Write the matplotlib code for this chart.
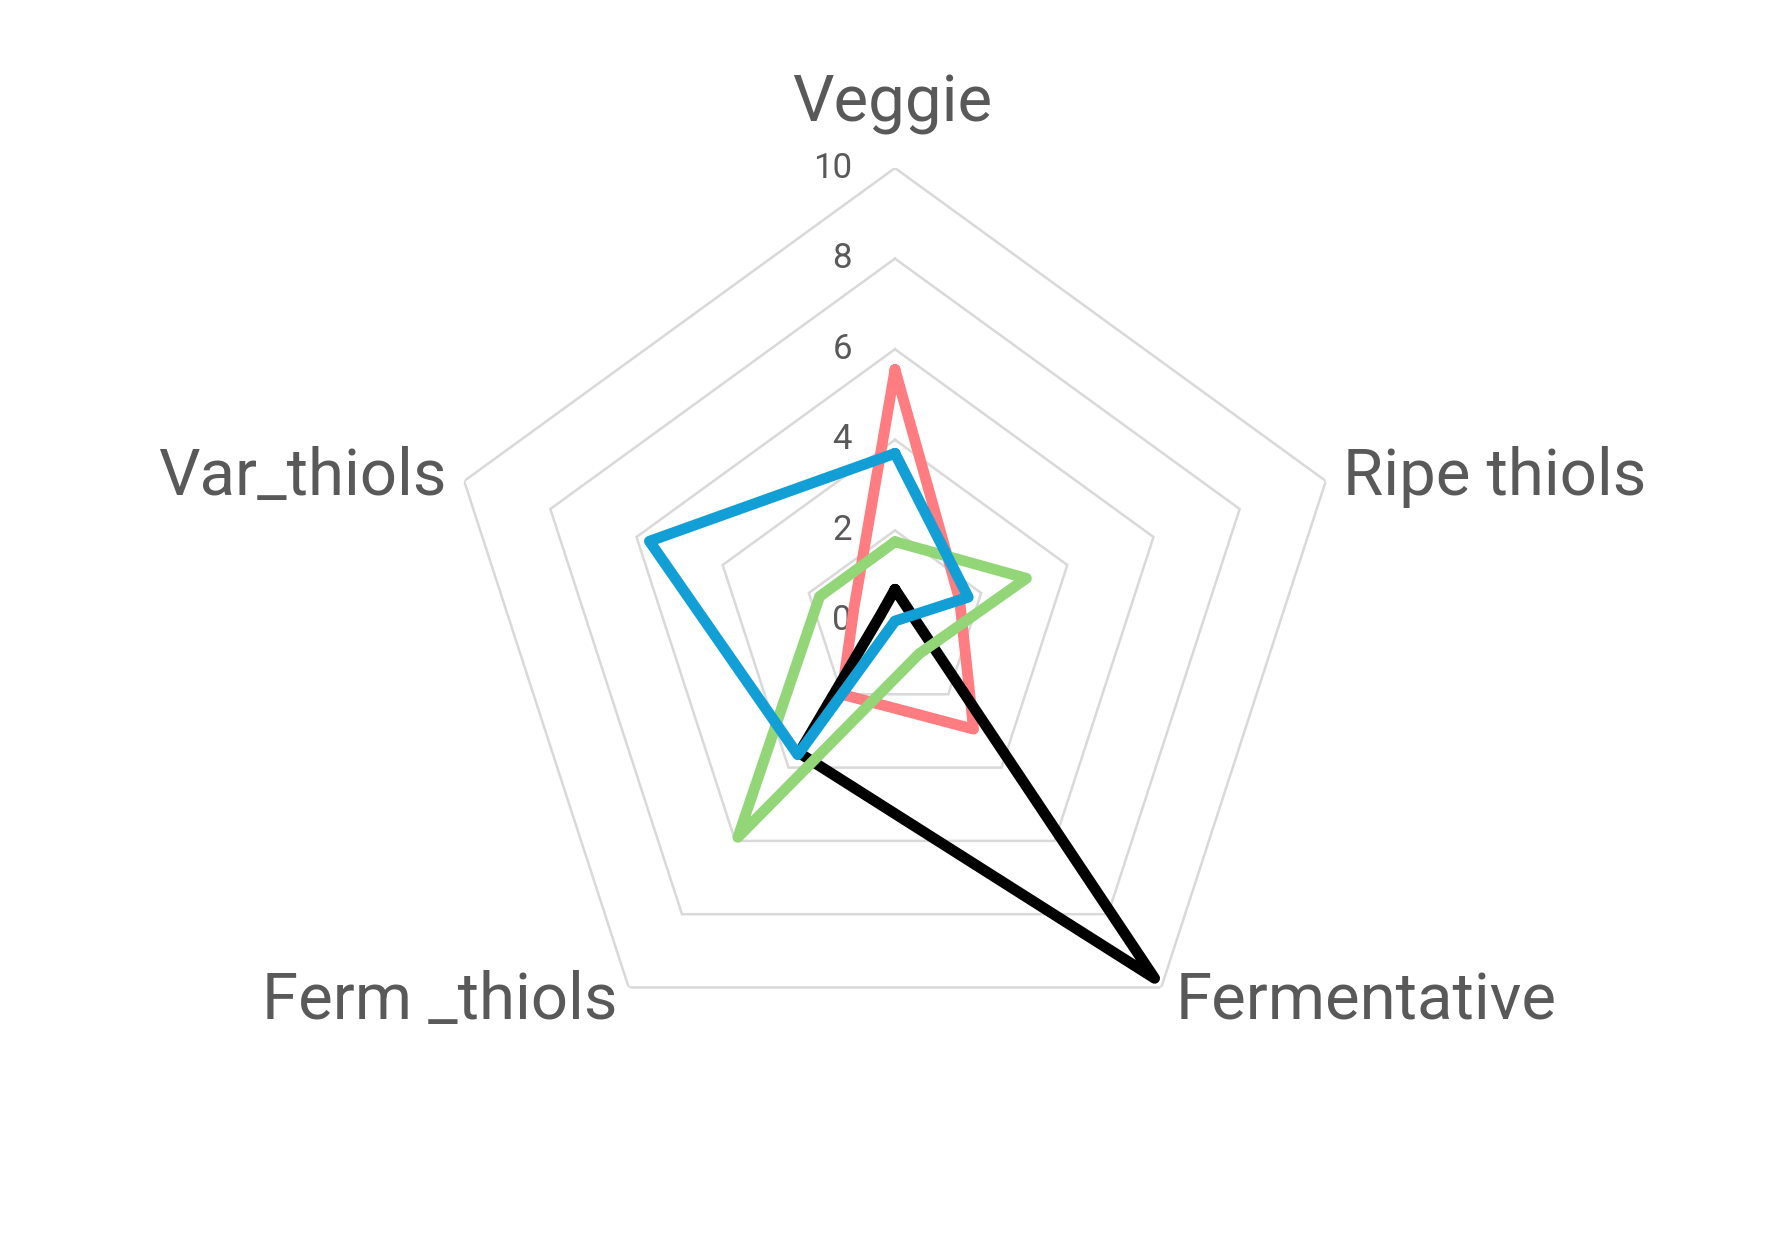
import numpy as np
import matplotlib
matplotlib.use('Agg')
import matplotlib.pyplot as plt

# axes, clockwise from the top
categories = ['Veggie', 'Ripe thiols', 'Fermentative', 'Ferm _thiols', 'Var_thiols']

# values
red_vals = [5.55, 1.5, 2.95, 2.0, 0.95]
black_vals = [0.7, 0.4, 9.75, 3.6, 0.35]
green_vals = [1.75, 3.05, 0.9, 5.9, 1.75]
blue_vals = [3.7, 1.7, 0.0, 3.65, 5.7]

grid_levels = [2, 4, 6, 8, 10]
tick_labels = ['0', '2', '4', '6', '8', '10']

series = [
	(red_vals, '#FF7C80'),
	(black_vals, '#000000'),
	(green_vals, '#92D678'),
	(blue_vals, '#129FD6'),
]

plt.rcParams['font.family'] = ['Roboto', 'DejaVu Sans']

W, H, DPI = 1789, 1238, 200
fig = plt.figure(figsize=(W/DPI, H/DPI), dpi=DPI)
fig.patch.set_facecolor('white')

# centre at (895, 621) px, radius of the 10 ring = 453 px
cx, cy, R = 895, 621, 453
ax = fig.add_axes([(cx - R)/W, (H - cy - R)/H, 2*R/W, 2*R/H], projection='polar')
ax.set_theta_zero_location('N')
ax.set_theta_direction(-1)
ax.set_ylim(0, 10)
ax.grid(False)
ax.spines['polar'].set_visible(False)
ax.set_xticks([])
ax.set_yticks([])
ax.patch.set_alpha(0)

n = len(categories)
theta = np.linspace(0, 2*np.pi, n, endpoint=False)
theta_closed = np.append(theta, theta[0])

# pentagon gridlines
for lvl in grid_levels:
	ax.plot(theta_closed, [lvl]*(n + 1), color='#D9D9D9', lw=0.9, zorder=1,
		solid_joinstyle='miter')

# data series
for vals, col in series:
	ax.plot(theta_closed, vals + vals[:1], color=col, lw=3.9, zorder=3,
		solid_joinstyle='round', solid_capstyle='round')

# radial tick labels along the Veggie axis
for i, lab in enumerate(tick_labels):
	ax.annotate(lab, xy=(0, i*2), xytext=(-15.5, 0), textcoords='offset points',
		ha='right', va='center', fontsize=12.5, color='#595959', zorder=2)

# category labels
offsets = [(-1, 16.6, 'center'), (6.2, -5.0, 'left'), (5.3, -11.5, 'left'),
	(-4.2, -11.5, 'right'), (-6.2, -5.0, 'right')]
for ang, lab, (dx, dy, ha) in zip(theta, categories, offsets):
	ax.annotate(lab, xy=(ang, 10), xytext=(dx, dy), textcoords='offset points',
		ha=ha, va='baseline', fontsize=23.5, color='#595959', annotation_clip=False)

fig.savefig('out.png', dpi=DPI, facecolor='white')
